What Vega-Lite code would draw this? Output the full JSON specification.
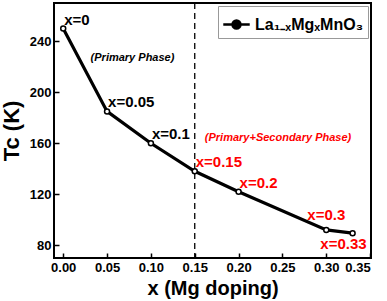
{
  "$schema": "https://vega.github.io/schema/vega-lite/v6.json",
  "width": 317,
  "height": 255,
  "autosize": {"type": "none"},
  "padding": {"left": 54, "top": 3, "right": 16, "bottom": 43},
  "background": "white",
  "config": {
    "font": "Liberation Sans",
    "view": {"stroke": "black", "strokeWidth": 2},
    "axis": {
      "domain": false, "grid": false,
      "tickColor": "black", "tickWidth": 1.5, "tickSize": -5,
      "labelFont": "Liberation Sans", "labelFontWeight": "bold", "labelFontSize": 13, "labelColor": "black",
      "titleFont": "Liberation Sans", "titleFontWeight": "bold", "titleColor": "black"
    }
  },
  "datasets": {
    "pts": [
      {"x": 0.0, "tc": 250, "label": "x=0", "phase": "primary"},
      {"x": 0.05, "tc": 185, "label": "x=0.05", "phase": "primary"},
      {"x": 0.1, "tc": 160, "label": "x=0.1", "phase": "primary"},
      {"x": 0.15, "tc": 138, "label": "x=0.15", "phase": "secondary"},
      {"x": 0.2, "tc": 122, "label": "x=0.2", "phase": "secondary"},
      {"x": 0.3, "tc": 92, "label": "x=0.3", "phase": "secondary"},
      {"x": 0.33, "tc": 89.5, "label": "x=0.33", "phase": "secondary"}
    ],
    "notes": [
      {"x": 0.079, "tc": 227, "text": "(Primary Phase)", "phase": "primary"},
      {"x": 0.245, "tc": 164, "text": "(Primary+Secondary Phase)", "phase": "secondary"}
    ],
    "boundary": [{"x": 0.15}]
  },
  "layer": [
    {
      "data": {"name": "boundary"},
      "mark": {"type": "rule", "strokeDash": [6, 4], "strokeWidth": 1.3, "color": "black"},
      "encoding": {"x": {"field": "x", "type": "quantitative"}}
    },
    {
      "data": {"name": "pts"},
      "mark": {"type": "line", "strokeWidth": 3.2, "point": {"filled": true, "fill": "white", "stroke": "black", "strokeWidth": 1.5, "size": 25}},
      "encoding": {
        "x": {"field": "x", "type": "quantitative", "scale": {"domain": [-0.0105, 0.351], "nice": false, "zero": false},
          "axis": {"values": [0, 0.05, 0.1, 0.15, 0.2, 0.25, 0.3, 0.35], "format": ".2f", "title": "x (Mg doping)", "titleFontSize": 20, "labelPadding": 8, "titlePadding": 4}},
        "y": {"field": "tc", "type": "quantitative", "scale": {"domain": [70, 270], "nice": false, "zero": false},
          "axis": {"values": [80, 120, 160, 200, 240], "title": "Tc (K)", "titleFontSize": 22, "labelPadding": 8, "titlePadding": 6}},
        "color": {"datum": "La₁₋ₓMgₓMnO₃", "type": "nominal", "scale": {"range": ["black"]},
          "legend": {"title": null, "orient": "top-right", "offset": 3, "labelFontSize": 16, "labelFontWeight": "bold", "labelColor": "black", "strokeColor": "#999", "padding": 4,
            "symbolType": "M-1,0L-0.3,0M0.3,0L1,0M-0.3,0A0.3,0.3 0 1,0 0.3,0A0.3,0.3 0 1,0 -0.3,0Z",
            "symbolFillColor": "white", "symbolStrokeColor": "black", "symbolStrokeWidth": 2.5, "symbolSize": 700}}
      }
    },
    {
      "data": {"name": "pts"},
      "transform": [{"filter": "datum.x < 0.25"}],
      "mark": {"type": "text", "align": "left", "baseline": "middle", "dx": 1, "dy": -9, "fontSize": 15, "fontWeight": "bold"},
      "encoding": {
        "x": {"field": "x", "type": "quantitative"},
        "y": {"field": "tc", "type": "quantitative"},
        "text": {"field": "label"},
        "color": {"condition": {"test": "datum.phase == 'secondary'", "value": "#f00"}, "value": "black"}
      }
    },
    {
      "data": {"name": "pts"},
      "transform": [{"filter": "datum.x == 0.3"}],
      "mark": {"type": "text", "align": "right", "baseline": "middle", "dx": 19, "dy": -15, "fontSize": 15, "fontWeight": "bold", "color": "#f00"},
      "encoding": {
        "x": {"field": "x", "type": "quantitative"},
        "y": {"field": "tc", "type": "quantitative"},
        "text": {"field": "label"}
      }
    },
    {
      "data": {"name": "pts"},
      "transform": [{"filter": "datum.x == 0.33"}],
      "mark": {"type": "text", "align": "right", "baseline": "middle", "dx": 14, "dy": 11, "fontSize": 15, "fontWeight": "bold", "color": "#f00"},
      "encoding": {
        "x": {"field": "x", "type": "quantitative"},
        "y": {"field": "tc", "type": "quantitative"},
        "text": {"field": "label"}
      }
    },
    {
      "data": {"name": "notes"},
      "mark": {"type": "text", "align": "center", "baseline": "middle", "fontSize": 11, "fontWeight": "bold", "fontStyle": "italic"},
      "encoding": {
        "x": {"field": "x", "type": "quantitative"},
        "y": {"field": "tc", "type": "quantitative"},
        "text": {"field": "text"},
        "color": {"condition": {"test": "datum.phase == 'secondary'", "value": "#f00"}, "value": "black"}
      }
    }
  ]
}
